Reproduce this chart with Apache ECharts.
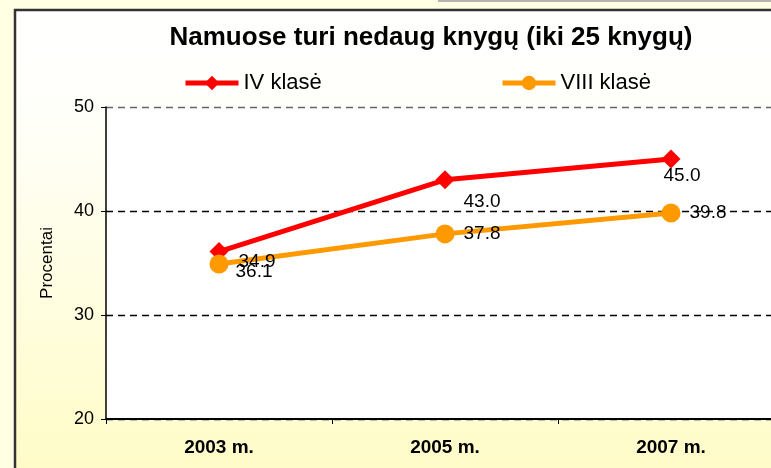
<!DOCTYPE html>
<html>
<head>
<meta charset="utf-8">
<script src="https://cdn.jsdelivr.net/npm/echarts@6/dist/echarts.min.js"></script>
<style>
html,body{margin:0;padding:0;background:#FFFFE3;}
#c{width:771px;height:468px;}
</style>
</head>
<body>
<div id="c"></div>
<script>
var titleText = 'Namuose turi nedaug knygų (iki 25 knygų)';
var categories = ['2003 m.', '2005 m.', '2007 m.'];
var seriesNames = ['IV klasė', 'VIII klasė'];
var valuesIV = [36.1, 43.0, 45.0];
var valuesVIII = [34.9, 37.8, 39.8];
var yTicks = [20, 30, 40, 50];
var yAxisName = 'Procentai';

// label offsets (styling) per point
var offIV = [[35, 20], [37, 22], [11, 17]];
var offVIII = [[38, -2], [37, 0], [37, 0]];

function mk(vals, offs) {
  return vals.map(function (v, i) {
    return { value: v, label: { offset: offs[i] } };
  });
}

var chart = echarts.init(document.getElementById('c'), null, { renderer: 'canvas' });
var font = 'Liberation Sans, Arial, sans-serif';
var legendCommon = {
  padding: 0, itemWidth: 53, itemHeight: 18, itemGap: 4,
  lineStyle: { width: 5 },
  textStyle: { fontSize: 22, color: '#000', fontFamily: font }
};
var option = {
  backgroundColor: '#FFFFE3',
  animation: false,
  textStyle: { fontFamily: font },
  title: {
    text: titleText,
    left: 426, top: 20, textAlign: 'center',
    textStyle: { fontSize: 26, fontWeight: 'bold', color: '#000', fontFamily: font }
  },
  legend: [
    Object.assign({ data: [seriesNames[0]], left: 183, top: 72 }, legendCommon),
    Object.assign({ data: [seriesNames[1]], left: 500, top: 72 }, legendCommon)
  ],
  graphic: {
    z: -100,
    elements: [
      { type: 'rect', z: -100, shape: { x: 438, y: 0, width: 340, height: 2 }, style: { fill: '#B4B4B4' } },
      {
        type: 'rect', z: -100,
        shape: { x: 15, y: 10, width: 800, height: 500 },
        style: {
          fill: new echarts.graphic.LinearGradient(0, 0, 0, 1, [
            { offset: 0, color: '#FFFFFF' },
            { offset: 0.2, color: '#FFFFFA' },
            { offset: 0.85, color: '#FFFCCC' },
            { offset: 1, color: '#FFFBC6' }
          ]),
          stroke: '#333333', lineWidth: 2.5
        }
      }
    ]
  },
  grid: {
    left: 106, top: 107, width: 678, height: 312,
    outerBoundsMode: 'none', containLabel: false,
    show: true, backgroundColor: '#FFFFFF', borderWidth: 0
  },
  xAxis: {
    type: 'category', data: categories, boundaryGap: true,
    axisLine: { lineStyle: { color: '#000', width: 2 } },
    axisTick: { show: true, length: 5, lineStyle: { color: '#000', width: 1 } },
    axisLabel: { fontSize: 19, fontWeight: 'bold', color: '#000', margin: 19, fontFamily: font }
  },
  yAxis: {
    type: 'value', min: yTicks[0], max: yTicks[yTicks.length - 1], interval: 10,
    name: yAxisName, nameLocation: 'middle', nameGap: 50, nameRotate: 90,
    nameTextStyle: { fontSize: 17, color: '#000', fontFamily: font },
    axisLine: { show: true, lineStyle: { color: '#000', width: 1.5 } },
    axisTick: { show: true, length: 5, lineStyle: { color: '#000' } },
    axisLabel: { fontSize: 18, color: '#000', margin: 12, fontFamily: font },
    splitLine: { show: true, lineStyle: { color: ['#000', '#000', '#000', '#666'], type: [7, 5], width: 1.3 } }
  },
  series: [
    {
      name: seriesNames[0], type: 'line', data: mk(valuesIV, offIV),
      symbol: 'diamond', symbolSize: 19,
      lineStyle: { color: '#FF0000', width: 5 },
      itemStyle: { color: '#FF0000' },
      label: {
        show: true, position: 'inside', fontSize: 19, color: '#000', fontFamily: font,
        formatter: function (p) { return p.value.toFixed(1); }
      },
      z: 3
    },
    {
      name: seriesNames[1], type: 'line', data: mk(valuesVIII, offVIII),
      symbol: 'circle', symbolSize: 19,
      lineStyle: { color: '#FF9900', width: 5 },
      itemStyle: { color: '#FF9900' },
      label: {
        show: true, position: 'inside', fontSize: 19, color: '#000', fontFamily: font,
        formatter: function (p) { return p.value.toFixed(1); }
      },
      z: 4
    }
  ]
};
chart.setOption(option);
</script>
</body>
</html>
